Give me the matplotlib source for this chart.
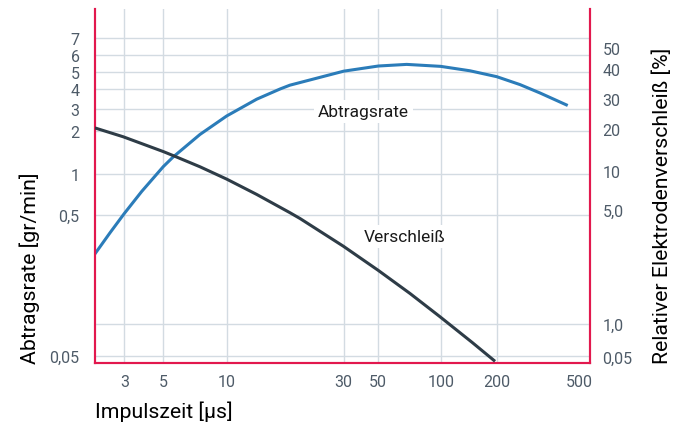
import numpy as np
import matplotlib
matplotlib.use("Agg")
import matplotlib.pyplot as plt

# Daten
impulszeit_abtrag = [2.04, 2.49, 3.0, 3.77, 5.0, 5.56, 7.47, 10, 13.25, 16.5, 18.1,
                     30, 50, 68.5, 100, 143.7, 200, 259.3, 324, 441]
abtragsrate = [0.2645, 0.3746, 0.5128, 0.743, 1.122, 1.309, 1.892, 2.638, 3.454, 4.0, 4.202,
               5.029, 5.32, 5.415, 5.30, 5.05, 4.69, 4.233, 3.777, 3.155]

impulszeit_verschl = [2.04, 2.96, 5.0, 5.56, 7.47, 10, 13.25, 18.1, 19.9, 29.9, 50,
                      71.1, 99, 148, 196]
verschleiss = [20.3, 17.57, 13.74, 12.87, 10.67, 8.61, 6.56, 4.795, 4.418, 2.99, 2.127,
               1.537, 1.11, 0.1848, 0.0338]

x_ticks = [3, 5, 10, 30, 50, 100, 200]
x_tick_labels = ["3", "5", "10", "30", "50", "100", "200"]
x_extra_tick = [500]
x_extra_label = ["500"]

yl_ticks = [0.05, 0.5, 1, 2, 3, 4, 5, 6, 7]
yl_tick_labels = ["0,05", "0,5", "1", "2", "3", "4", "5", "6", "7"]

yr_ticks = [0.05, 1, 5, 10, 20, 30, 40, 50]
yr_tick_labels = ["0,05", "1,0", "5,0", "10", "20", "30", "40", "50"]

# Die Achsen im Original sind nicht streng logarithmisch -> Skala stueckweise
# log-linear durch die Positionen der Teilstriche (Pixel im Bild)
x_pix = [124.3, 163.3, 226.7, 343.7, 378.3, 440.7, 496.7, 579]
yl_pix = [357, 216, 174.7, 132, 110, 90, 72.7, 56, 39.3]
yr_pix = [358, 325, 210.7, 171.7, 130, 100, 70, 49.3]


def make_scale(vals, pix):
    lv = np.log10(np.asarray(vals, float))
    p = np.asarray(pix, float)
    s0 = (p[1] - p[0]) / (lv[1] - lv[0])
    s1 = (p[-1] - p[-2]) / (lv[-1] - lv[-2])
    lv = np.r_[lv[0] - 10, lv, lv[-1] + 10]
    p = np.r_[p[0] - 10 * s0, p, p[-1] + 10 * s1]

    def fwd(v):
        return np.interp(np.log10(np.clip(np.asarray(v, float), 1e-12, None)), lv, p)

    def inv(q):
        return 10 ** np.interp(np.asarray(q, float), p, lv)
    return fwd, inv


fx, ix = make_scale(x_ticks + x_extra_tick, x_pix)
fyl, iyl = make_scale(yl_ticks, [-v for v in yl_pix])
fyr, iyr = make_scale(yr_ticks, [-v for v in yr_pix])

RED = "#e2184e"
GRID = "#d3dbe2"
TICK = "#4e5b68"
BLUE = "#2b7cb9"
DARK = "#2e3c47"

plt.rcParams["font.family"] = ["Roboto", "DejaVu Sans"]

fig = plt.figure(figsize=(6.87, 4.27), dpi=100)
ax = fig.add_axes([95 / 687, 1 - 364 / 427, 495 / 687, 354 / 427])
ax2 = ax.twinx()

ax.set_xscale("function", functions=(fx, ix))
ax.set_yscale("function", functions=(fyl, iyl))
ax2.set_yscale("function", functions=(fyr, iyr))

ax.set_xlim(ix(95), ix(590))
ax.set_ylim(iyl(-364), iyl(-10))
ax2.set_ylim(iyr(-364), iyr(-10))

ax.plot(impulszeit_abtrag, abtragsrate, color=BLUE, lw=2.2, solid_capstyle="butt",
        solid_joinstyle="round", zorder=3)
ax2.plot(impulszeit_verschl, verschleiss, color=DARK, lw=2.2, solid_capstyle="butt",
         solid_joinstyle="round", zorder=3)
ax2.axhline(1.0, color=GRID, lw=1.0, zorder=0)

ax.set_xticks(x_ticks, x_tick_labels)
ax.set_xticks(x_extra_tick, x_extra_label, minor=True)
ax.set_yticks(yl_ticks, yl_tick_labels)
ax.set_yticks([], minor=True)
ax2.set_yticks(yr_ticks, yr_tick_labels)
ax2.set_yticks([], minor=True)

ax.grid(True, which="major", color=GRID, lw=1.0)
ax.set_axisbelow(True)

ax.tick_params(axis="x", which="both", length=0, pad=8, labelsize=11.5, labelcolor=TICK)
ax.tick_params(axis="y", which="both", length=0, pad=11, labelsize=11.5, labelcolor=TICK)
ax2.tick_params(axis="y", which="both", length=0, pad=9, labelsize=11.5, labelcolor=TICK)

for a in (ax, ax2):
    a.spines["top"].set_visible(False)
    for s in ("left", "right", "bottom"):
        a.spines[s].set_color(RED)
        a.spines[s].set_linewidth(1.5)

ax.set_xlabel("Impulszeit [µs]", loc="left", fontsize=15.3, labelpad=8)
ax.set_ylabel("Abtragsrate [gr/min]", loc="bottom", fontsize=15.3, labelpad=7)
ax2.set_ylabel("Relativer Elektrodenverschleiß [%]", loc="bottom", fontsize=15.3, labelpad=14)

box = dict(facecolor="white", edgecolor="none", pad=3)
ax.text(0.542, 0.711, "Abtragsrate", transform=ax.transAxes, ha="center", va="center",
        fontsize=12.5, color="#1a1a1a", bbox=box, zorder=4)
ax.text(0.626, 0.358, "Verschleiß", transform=ax.transAxes, ha="center", va="center",
        fontsize=12.5, color="#1a1a1a", bbox=box, zorder=4)

fig.savefig("out.png", dpi=100)
